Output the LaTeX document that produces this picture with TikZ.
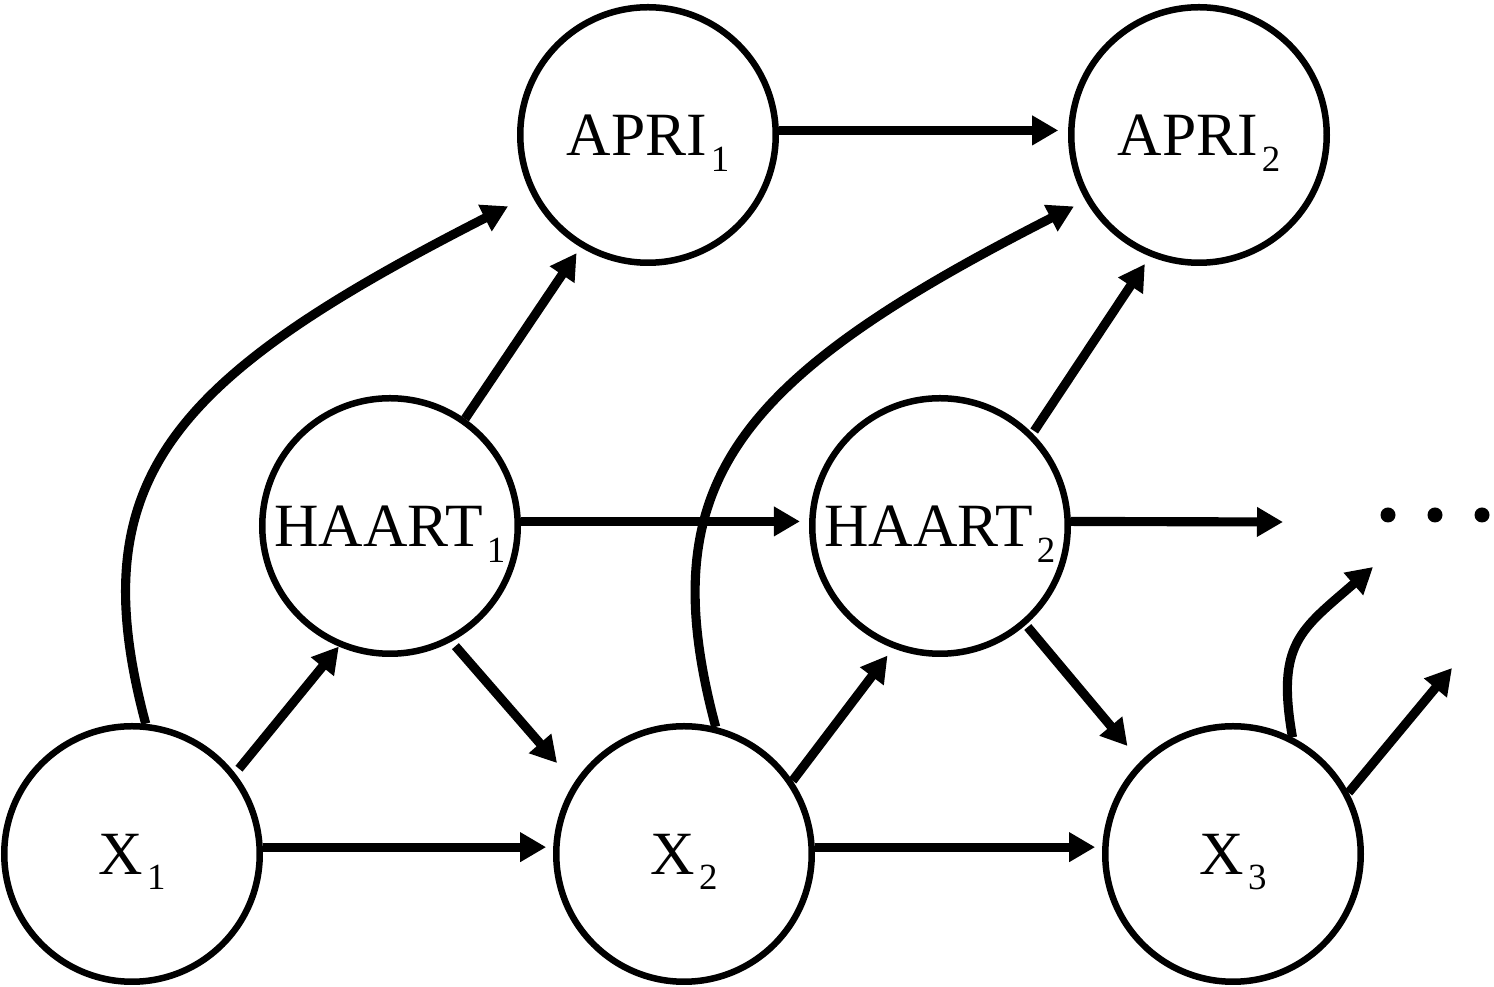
\documentclass[tikz,border=0pt]{standalone}
\usepackage{fontspec}
\setmainfont{Liberation Serif}
\usepackage{tikz}
\usetikzlibrary{arrows.meta}
\newcommand{\lowidx}[1]{\kern1.2pt\raisebox{-4.5pt}[0pt][0pt]{\fontsize{10.5}{10.5}\selectfont #1}}

\begin{document}
\begin{tikzpicture}[
  var/.style={draw, circle, line width=1.85pt, minimum size=2.555cm, inner sep=0pt, font=\fontsize{17.5}{20}\selectfont},
  arr/.style={-{Triangle[length=7.4pt, width=8pt]}, line width=2.6pt}
]
  \useasboundingbox (0, 0) rectangle (14.94, 9.87);

  \node[var] (x1) at (1.32, 1.33) {X\lowidx{1}};
  \node[var] (x2) at (6.84, 1.33) {X\lowidx{2}};
  \node[var] (x3) at (12.33, 1.33) {X\lowidx{3}};
  \node[var] (haart1) at (3.90, 4.61) {HAART\lowidx{1}};
  \node[var] (haart2) at (9.40, 4.61) {HAART\lowidx{2}};
  \node[var] (apri1) at (6.48, 8.52) {APRI\lowidx{1}};
  \node[var] (apri2) at (11.99, 8.52) {APRI\lowidx{2}};

  \coordinate (more) at (12.83, 4.65);
  \coordinate (up3) at (13.73, 4.20);
  \coordinate (out3) at (14.52, 3.19);
  \foreach \x in {13.88, 14.35, 14.82}
    \fill (\x, 4.72) circle (0.075);

  \draw[arr, shorten >=2pt] (x1.3) -- (x2.177);
  \draw[arr, shorten >=2pt] (x2.3) -- (x3.177);
  \draw[arr, shorten <=1.7pt] (x1.38) -- (haart1.247);
  \draw[arr, shorten <=1.7pt, shorten >=7.4pt] (haart1.298) -- (x2.147);
  \draw[arr, shorten >=2.6pt] (x2.34) -- (haart2.249);
  \draw[arr, shorten <=0.8pt, shorten >=5.7pt] (haart2.311) -- (x3.135);
  \draw[arr, shorten >=2pt] (haart1.55) -- (apri1.239);
  \draw[arr, shorten <=0.8pt, shorten >=2.6pt] (haart2.45) -- (apri2.248);
  \draw[arr, shorten >=2.6pt] (haart1.2) -- (haart2.178);
  \draw[arr] (haart2.2) -- (more);
  \draw[arr, shorten >=2.8pt] (apri1.2) -- (apri2.178);
  \draw[arr, shorten >=7.4pt] (x1.84) .. controls +(105:2.53) and +(207:4.06) .. (apri1.207);
  \draw[arr, shorten >=3.7pt] (x2.76) .. controls +(105:2.53) and +(207:3.93) .. (apri2.210);
  \draw[arr] (x3.63) to[out=100, in=221, looseness=1.3] (up3);
  \draw[arr] (x3.28) -- (out3);
\end{tikzpicture}
\end{document}
